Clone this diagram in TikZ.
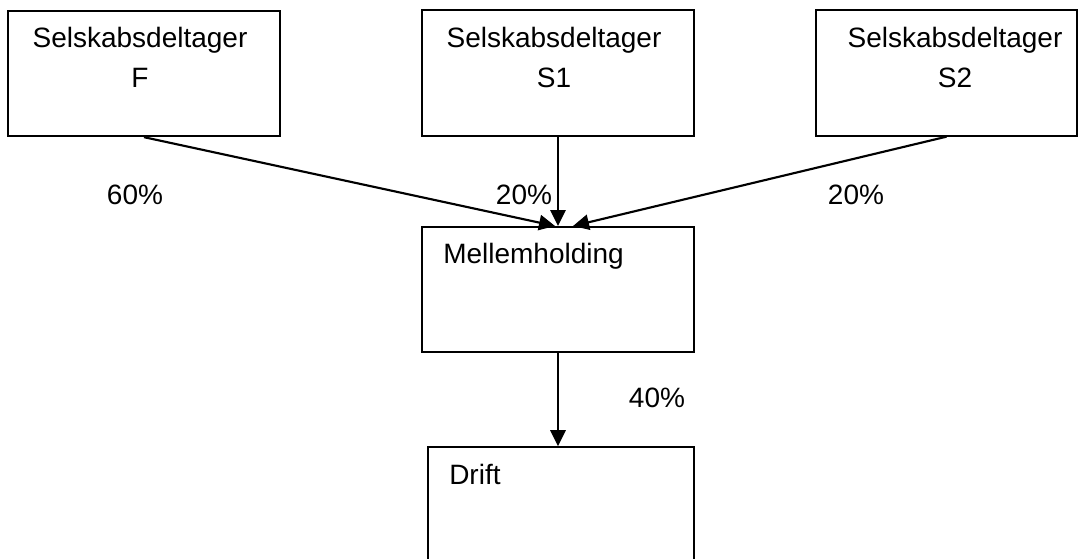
\documentclass[tikz,border=0pt]{standalone}
\usepackage{fontspec}
\setmainfont{Liberation Sans}
\usetikzlibrary{arrows.meta, positioning}

\tikzset{
  box/.style={draw, line width=1.5pt, inner sep=0pt, minimum width=204pt, minimum height=94pt},
  txt/.style={inner sep=0pt, font=\fontsize{21}{30}\selectfont},
  pct/.style={txt, anchor=base}
}

\begin{document}
\begin{tikzpicture}[x=0.75pt, y=-0.75pt, >={Triangle[length=12pt, width=11.5pt]}]
    \useasboundingbox (0,0) rectangle (1078,558);

    % boxes
    \node[box] (F) at (144,73.5) {};
    \node[box] (S1) at (558,73) {};
    \node[box, minimum width=195.75pt] (S2) at (946.5,73) {};
    \node[box, minimum height=93.75pt] (mell) at (558,289.5) {};
    \node[box, minimum width=199.5pt, minimum height=92pt] (drift) at (561,508.5) {};

    % texts
    \node[txt, align=center, anchor=base] (tF) at (140,87) {Selskabsdeltager\\F};
    \node[txt, align=center, anchor=base] (tS1) at (554,87) {Selskabsdeltager\\S1};
    \node[txt, align=center, anchor=base] (tS2) at (955,87) {Selskabsdeltager\\S2};
    \node[txt, anchor=base west] (tmell) at (443,263) {Mellemholding};
    \node[txt, anchor=base west] (tdrift) at (449,484) {Drift};

    % ejerandele
    \draw[->, line width=1.6pt] (F.south) -- ([xshift=-2.25pt]mell.north);
    \draw[->, line width=1.6pt] (S1.south) -- (mell.north);
    \draw[->, line width=1.6pt] (S2.south) -- ([xshift=11.25pt]mell.north);
    \draw[->, line width=1.6pt] (mell.south) -- (mell.south |- drift.north);

    \node[pct] (pF) at (135,204) {60\%};
    \node[pct] (pS1) at (524,204) {20\%};
    \node[pct] (pS2) at (856,204) {20\%};
    \node[pct] (pmell) at (657,407) {40\%};
\end{tikzpicture}
\end{document}
